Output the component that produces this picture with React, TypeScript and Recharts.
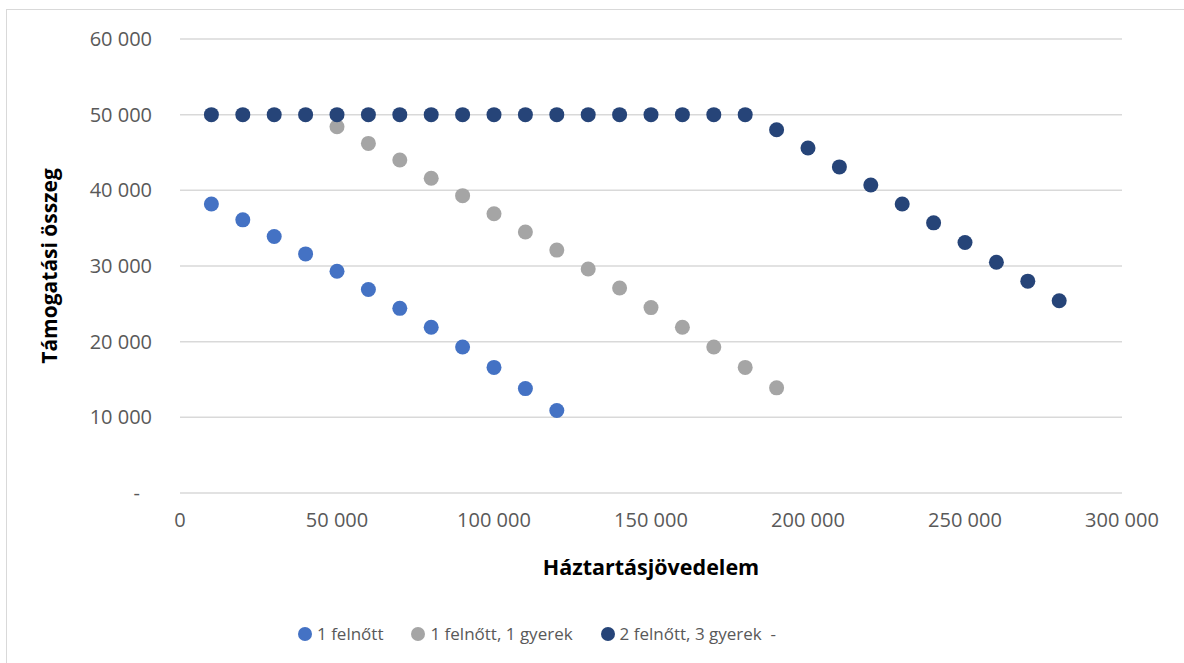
import { CartesianGrid, Legend, Scatter, ScatterChart, XAxis, YAxis } from 'recharts'

const seriesNames = ['1 felnőtt', '1 felnőtt, 1 gyerek', '2 felnőtt, 3 gyerek  -']
const seriesColors = ['#4472C4', '#A5A5A5', '#264478']

const income1 = [10000, 20000, 30000, 40000, 50000, 60000, 70000, 80000, 90000, 100000, 110000, 120000]
const support1 = [38200, 36100, 33900, 31600, 29300, 26900, 24400, 21900, 19300, 16600, 13800, 10900]

const income2 = [
  50000, 60000, 70000, 80000, 90000, 100000, 110000, 120000, 130000, 140000, 150000, 160000, 170000, 180000,
  190000,
]
const support2 = [
  48400, 46200, 44000, 41600, 39300, 36900, 34500, 32100, 29600, 27100, 24500, 21900, 19300, 16600, 13900,
]

const income3 = [
  10000, 20000, 30000, 40000, 50000, 60000, 70000, 80000, 90000, 100000, 110000, 120000, 130000, 140000,
  150000, 160000, 170000, 180000, 190000, 200000, 210000, 220000, 230000, 240000, 250000, 260000, 270000,
  280000,
]
const support3 = [
  50000, 50000, 50000, 50000, 50000, 50000, 50000, 50000, 50000, 50000, 50000, 50000, 50000, 50000, 50000,
  50000, 50000, 50000, 48000, 45600, 43100, 40700, 38200, 35700, 33100, 30500, 28000, 25400,
]

const xTicks = [0, 50000, 100000, 150000, 200000, 250000, 300000]
const yTicks = [0, 10000, 20000, 30000, 40000, 50000, 60000]

const font = '"Open Sans", sans-serif'
const textGrey = '#595959'

const toPoints = (xs: number[], ys: number[]) => xs.map((x, i) => ({ x, y: ys[i] }))
const seriesData = [toPoints(income1, support1), toPoints(income2, support2), toPoints(income3, support3)]

const fmt = (v: number) => String(v).replace(/\B(?=(\d{3})+(?!\d))/g, ' ')

function YTick(props: any) {
  const { x, y, payload } = props
  const zero = payload.value === 0
  return (
    <text x={zero ? x - 12 : x} y={y} dy="0.35em" textAnchor="end" fill={textGrey} fontSize={20} fontFamily={font}>
      {zero ? '-' : fmt(payload.value)}
    </text>
  )
}

function Dot(color: string) {
  return (props: any) => <circle cx={props.cx} cy={props.cy} r={7.5} fill={color} />
}

function LegendContent() {
  return (
    <div style={{ display: 'flex', alignItems: 'center', fontFamily: font, fontSize: 17, color: textGrey }}>
      {seriesNames.map((name, i) => (
        <div key={name} style={{ display: 'flex', alignItems: 'center', marginRight: 28 }}>
          <span
            style={{ width: 14, height: 14, borderRadius: 7, background: seriesColors[i], marginRight: 5 }}
          />
          <span style={{ whiteSpace: 'pre' }}>{name}</span>
        </div>
      ))}
    </div>
  )
}

export default function App() {
  return (
    <div style={{ position: 'absolute', left: 0, top: 0, width: 1184, height: 663, overflow: 'hidden', background: '#fff' }}>
      <div
        style={{
          position: 'absolute',
          left: 6,
          top: 9,
          width: 1300,
          height: 800,
          border: '1px solid #d9d9d9',
        }}
      />
      <ScatterChart width={1184} height={663} margin={{ top: 39, right: 62, left: 0, bottom: 14 }}>
        <CartesianGrid vertical={false} stroke="#d9d9d9" strokeWidth={1.5} />
        <XAxis
          type="number"
          dataKey="x"
          domain={[0, 300000]}
          ticks={xTicks}
          tickFormatter={fmt}
          axisLine={false}
          tickLine={false}
          tickSize={0}
          tickMargin={20}
          height={126}
          tick={{ fill: textGrey, fontSize: 20, fontFamily: font }}
          label={{
            value: 'Háztartásjövedelem',
            position: 'insideBottom',
            offset: 44,
            style: { fontFamily: font, fontSize: 21.5, fontWeight: 700, fill: '#000' },
          }}
        />
        <YAxis
          type="number"
          dataKey="y"
          domain={[0, 60000]}
          ticks={yTicks}
          axisLine={false}
          tickLine={false}
          tickSize={0}
          tickMargin={28}
          width={180}
          tick={<YTick />}
          label={{
            value: 'Támogatási összeg',
            angle: -90,
            position: 'insideLeft',
            offset: 50,
            style: { fontFamily: font, fontSize: 21, fontWeight: 700, fill: '#000', textAnchor: 'middle' },
          }}
        />
        <Legend
          verticalAlign="bottom"
          content={<LegendContent />}
          wrapperStyle={{ left: 298, width: 'auto', height: 30, bottom: 11 }}
        />
        {seriesData.map((data, i) => (
          <Scatter
            key={seriesNames[i]}
            name={seriesNames[i]}
            data={data}
            fill={seriesColors[i]}
            shape={Dot(seriesColors[i])}
            isAnimationActive={false}
          />
        ))}
      </ScatterChart>
    </div>
  )
}
